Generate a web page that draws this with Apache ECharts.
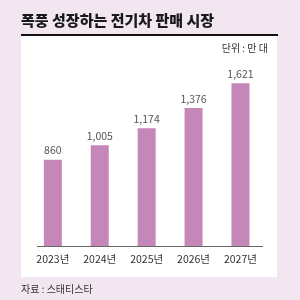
<!DOCTYPE html>
<html><head><meta charset="utf-8">
<script src="https://cdn.jsdelivr.net/npm/echarts@6/dist/echarts.min.js"></script>
<style>html,body{margin:0;padding:0;background:#f2e7f1}#c{width:300px;height:300px}</style>
</head><body><div id="c"></div>
<script>
const categories = ['2023년', '2024년', '2025년', '2026년', '2027년'];
const sales = [860, 1005, 1174, 1376, 1621];
const titleText = '폭풍 성장하는 전기차 판매 시장';
const unitText = '단위 : 만 대';
const sourceText = '자료 : 스태티스타';
const font = '"Noto Sans CJK KR", "Noto Sans", sans-serif';

const chart = echarts.init(document.getElementById('c'), null, {renderer: 'canvas'});
chart.setOption({
  backgroundColor: '#f2e7f1',
  animation: false,
  graphic: [
    {type: 'rect', z: -10, shape: {x: 21, y: 35, width: 256, height: 242}, style: {fill: '#ffffff'}},
    {type: 'line', z: 10, shape: {x1: 21, y1: 35, x2: 278, y2: 35}, style: {stroke: '#111', lineWidth: 2}},
    {type: 'text', left: 21, top: 13, style: {text: titleText, font: '900 15px ' + font, fill: '#1a1a1a'}},
    {type: 'text', right: 32, top: 43, style: {text: unitText, font: '10px ' + font, fill: '#333'}},
    {type: 'text', left: 21, top: 284, style: {text: sourceText, font: '10px ' + font, fill: '#333'}},
    {type: 'line', z: 10, shape: {x1: 37, y1: 246.5, x2: 263, y2: 246.5}, style: {stroke: '#666', lineWidth: 1}}
  ],
  grid: {left: 29.4, right: 36.1, top: 45.3, bottom: 54},
  xAxis: {
    type: 'category', data: categories,
    axisLine: {show: false}, axisTick: {show: false},
    axisLabel: {color: '#333', fontSize: 10.5, fontFamily: font, margin: 8}
  },
  yAxis: {type: 'value', min: 0, max: 2000, show: false, splitLine: {show: false}},
  series: [{
    type: 'bar', data: sales, barWidth: 18,
    itemStyle: {color: '#c487b8'},
    label: {show: true, position: 'top', distance: 4, color: '#555', fontSize: 10.5, fontFamily: font,
      formatter: p => p.value.toLocaleString('en-US')}
  }]
});
</script></body></html>
